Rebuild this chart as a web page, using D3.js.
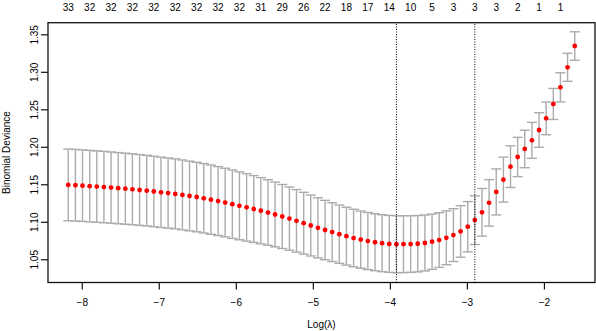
<!DOCTYPE html>
<html>
<head>
<meta charset="utf-8">
<script src="https://cdn.jsdelivr.net/npm/d3@7"></script>
<style>
  body { margin: 0; background: #fff; }
  svg { display: block; font-family: "Liberation Sans", Arial, Helvetica, sans-serif; }
</style>
</head>
<body>
<div id="chart"></div>
<script>
'use strict'

// log(lambda) for each fit along the path
const logLambda = [
  -8.175, -8.082, -7.990, -7.897, -7.805, -7.712, -7.619, -7.527, -7.434, -7.342,
  -7.249, -7.156, -7.064, -6.971, -6.879, -6.786, -6.693, -6.601, -6.508, -6.416,
  -6.323, -6.230, -6.138, -6.045, -5.953, -5.860, -5.767, -5.675, -5.582, -5.490,
  -5.397, -5.304, -5.212, -5.119, -5.027, -4.934, -4.841, -4.749, -4.656, -4.564,
  -4.471, -4.378, -4.286, -4.193, -4.101, -4.008, -3.915, -3.823, -3.730, -3.638,
  -3.545, -3.452, -3.360, -3.267, -3.175, -3.082, -2.989, -2.897, -2.804, -2.712,
  -2.619, -2.526, -2.434, -2.341, -2.249, -2.156, -2.063, -1.971, -1.878, -1.786,
  -1.693, -1.600]

// mean cross-validated binomial deviance
const cvm = [
  1.1491, 1.1487, 1.1482, 1.1475, 1.1469, 1.1463, 1.1456, 1.1448, 1.1441, 1.1433,
  1.1424, 1.1415, 1.1404, 1.1393, 1.1383, 1.1372, 1.1358, 1.1344, 1.1330, 1.1313,
  1.1295, 1.1276, 1.1256, 1.1234, 1.1213, 1.1192, 1.1170, 1.1147, 1.1123, 1.1097,
  1.1070, 1.1042, 1.1012, 1.0981, 1.0950, 1.0919, 1.0890, 1.0862, 1.0834, 1.0808,
  1.0783, 1.0762, 1.0743, 1.0727, 1.0714, 1.0705, 1.0700, 1.0701, 1.0703, 1.0707,
  1.0717, 1.0734, 1.0756, 1.0786, 1.0822, 1.0871, 1.0934, 1.1022, 1.1126, 1.1252,
  1.1398, 1.1562, 1.1735, 1.1864, 1.1971, 1.2086, 1.2224, 1.2379, 1.2571, 1.2793,
  1.3060, 1.3344]

// standard error of the deviance
const cvsd = [
  0.0478, 0.0478, 0.0477, 0.0477, 0.0476, 0.0476, 0.0475, 0.0475, 0.0474, 0.0473,
  0.0472, 0.0471, 0.0470, 0.0469, 0.0468, 0.0467, 0.0466, 0.0465, 0.0464, 0.0463,
  0.0462, 0.0460, 0.0458, 0.0456, 0.0453, 0.0450, 0.0446, 0.0442, 0.0437, 0.0432,
  0.0427, 0.0422, 0.0417, 0.0412, 0.0406, 0.0401, 0.0396, 0.0392, 0.0389, 0.0386,
  0.0384, 0.0382, 0.0381, 0.0380, 0.0380, 0.0380, 0.0380, 0.0379, 0.0378, 0.0376,
  0.0373, 0.0369, 0.0365, 0.0359, 0.0352, 0.0344, 0.0335, 0.0325, 0.0318, 0.0310,
  0.0307, 0.0300, 0.0278, 0.0262, 0.0250, 0.0240, 0.0230, 0.0218, 0.0207, 0.0195,
  0.0187, 0.0190]

// non-zero coefficient counts shown on top (every third lambda)
const nzLabels = [33, 32, 32, 32, 32, 32, 32, 32, 32, 31, 29, 26, 22, 18, 17, 14, 10, 5, 3, 3, 3, 2, 1, 1]
const nzStep = 3

const xTicks = [-8, -7, -6, -5, -4, -3, -2]
const yTicks = [1.05, 1.10, 1.15, 1.20, 1.25, 1.30, 1.35]

const lambdaMinIdx = 46
const lambda1seIdx = 57

const width = 596, height = 331
const margin = {top: 22.7, right: 1, bottom: 48.5, left: 48}

const svg = d3.select('#chart').append('svg')
  .attr('width', width).attr('height', height)

const x = d3.scaleLinear().domain([-8.438, -1.337]).range([margin.left, width - margin.right])
const y = d3.scaleLinear().domain([1.019, 1.3655]).range([height - margin.bottom, margin.top])

const data = logLambda.map(function(l, i){
  return {l: l, m: cvm[i], lo: cvm[i] - cvsd[i], hi: cvm[i] + cvsd[i]}
})

// error bars
const barCol = '#ababab'
const cap = 5
const bars = svg.append('g').attr('stroke', barCol).attr('stroke-width', 1.4)
bars.selectAll('.stem').data(data).enter().append('line')
  .attr('x1', d => x(d.l)).attr('x2', d => x(d.l))
  .attr('y1', d => y(d.lo)).attr('y2', d => y(d.hi))
bars.selectAll('.capHi').data(data).enter().append('line')
  .attr('x1', d => x(d.l) - cap).attr('x2', d => x(d.l) + cap)
  .attr('y1', d => y(d.hi)).attr('y2', d => y(d.hi))
bars.selectAll('.capLo').data(data).enter().append('line')
  .attr('x1', d => x(d.l) - cap).attr('x2', d => x(d.l) + cap)
  .attr('y1', d => y(d.lo)).attr('y2', d => y(d.lo))

// points
svg.append('g').selectAll('circle').data(data).enter().append('circle')
  .attr('cx', d => x(d.l)).attr('cy', d => y(d.m))
  .attr('r', 2.4).attr('fill', '#ff0000')

// lambda.min and lambda.1se
svg.append('g').selectAll('line').data([lambdaMinIdx, lambda1seIdx]).enter().append('line')
  .attr('x1', d => x(logLambda[d])).attr('x2', d => x(logLambda[d]))
  .attr('y1', y.range()[0]).attr('y2', y.range()[1])
  .attr('stroke', '#000').attr('stroke-width', 1).attr('stroke-dasharray', '1,1.5')

// box
svg.append('rect')
  .attr('x', margin.left).attr('y', margin.top)
  .attr('width', width - margin.left - margin.right)
  .attr('height', height - margin.top - margin.bottom)
  .attr('fill', 'none').attr('stroke', '#111').attr('stroke-width', 1.3)

// axes
const xAxis = svg.append('g')
  .attr('transform', 'translate(0,' + (height - margin.bottom) + ')')
  .call(d3.axisBottom(x).tickValues(xTicks).tickSize(7).tickPadding(9).tickFormat(d3.format('d')))
const yAxis = svg.append('g')
  .attr('transform', 'translate(' + margin.left + ',0)')
  .call(d3.axisLeft(y).tickValues(yTicks).tickSize(7).tickFormat(d3.format('.2f')))

xAxis.select('.domain').remove()
yAxis.select('.domain').remove()
svg.selectAll('.tick line').attr('stroke', '#111').attr('stroke-width', 1.2)
svg.selectAll('.tick text').attr('fill', '#000').attr('font-size', 10)
  .attr('font-family', '"Liberation Sans", Arial, Helvetica, sans-serif')

yAxis.selectAll('.tick text')
  .attr('x', null).attr('dy', null)
  .attr('text-anchor', 'middle')
  .attr('transform', 'translate(-14,0) rotate(-90)')
  .attr('dy', '0.35em')

// top labels
svg.append('g').selectAll('text').data(nzLabels).enter().append('text')
  .attr('x', (d, i) => x(logLambda[i * nzStep]))
  .attr('y', 10.5)
  .attr('text-anchor', 'middle')
  .attr('font-size', 10)
  .text(d => d)

// axis titles
svg.append('text')
  .attr('x', (margin.left + width - margin.right) / 2)
  .attr('y', 328)
  .attr('text-anchor', 'middle').attr('font-size', 10)
  .text('Log(λ)')

svg.append('text')
  .attr('transform', 'translate(9.5,' + ((margin.top + height - margin.bottom) / 2) + ') rotate(-90)')
  .attr('text-anchor', 'middle').attr('font-size', 10)
  .text('Binomial Deviance')
</script>
</body>
</html>
